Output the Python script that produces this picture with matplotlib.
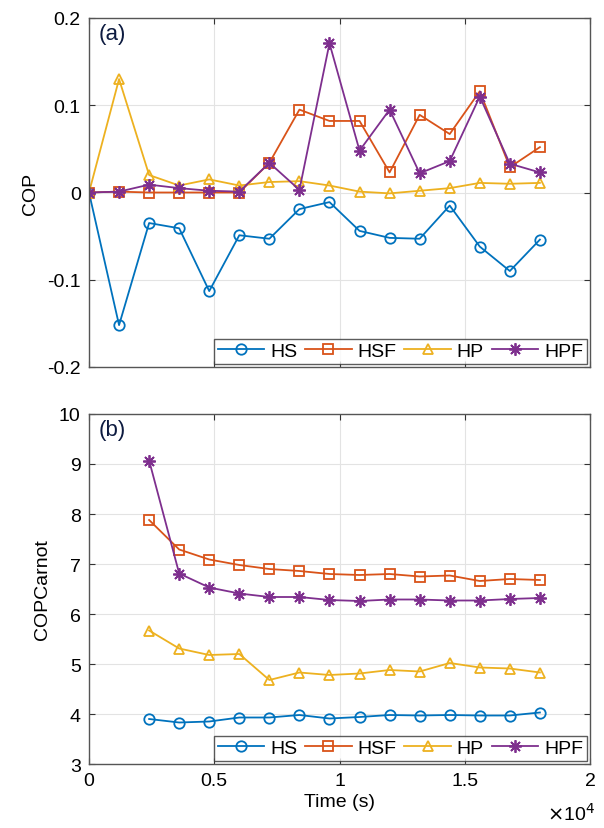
import matplotlib
matplotlib.use("Agg")
import matplotlib.pyplot as plt
from matplotlib.ticker import FixedLocator, FuncFormatter

plt.rcParams['font.family'] = ['Liberation Sans', 'DejaVu Sans']

# ---- data ----
time_a = [0, 1200, 2400, 3600, 4800, 6000, 7200, 8400, 9600, 10800,
          12000, 13200, 14400, 15600, 16800, 18000]
cop_hs = [0, -0.152, -0.035, -0.041, -0.113, -0.049, -0.053, -0.019, -0.011,
          -0.044, -0.052, -0.053, -0.015, -0.062, -0.090, -0.054]
cop_hsf = [0, 0.001, 0.0, 0.0, 0.0, 0.0, 0.034, 0.095, 0.082, 0.082,
           0.023, 0.089, 0.067, 0.116, 0.029, 0.052]
cop_hp = [0, 0.130, 0.020, 0.008, 0.015, 0.008, 0.012, 0.013, 0.008, 0.001,
          -0.001, 0.002, 0.005, 0.011, 0.010, 0.011]
cop_hpf = [0, 0.001, 0.009, 0.005, 0.002, 0.001, 0.034, 0.003, 0.171, 0.048,
           0.095, 0.022, 0.036, 0.110, 0.033, 0.023]

time_b = [2400, 3600, 4800, 6000, 7200, 8400, 9600, 10800,
          12000, 13200, 14400, 15600, 16800, 18000]
car_hs = [3.90, 3.83, 3.85, 3.93, 3.93, 3.98, 3.91, 3.94, 3.98, 3.97, 3.98,
          3.97, 3.97, 4.03]
car_hsf = [7.88, 7.29, 7.09, 6.98, 6.90, 6.86, 6.80, 6.78, 6.80, 6.75, 6.77,
           6.66, 6.70, 6.68]
car_hp = [5.67, 5.31, 5.18, 5.20, 4.68, 4.83, 4.78, 4.81, 4.88, 4.85, 5.02,
          4.93, 4.91, 4.83]
car_hpf = [9.07, 6.81, 6.53, 6.41, 6.34, 6.34, 6.28, 6.26, 6.29, 6.29, 6.27,
           6.27, 6.30, 6.32]

labels = ['HS', 'HSF', 'HP', 'HPF']
colors = ['#0072BD', '#D95319', '#EDB120', '#7E2F8E']
markers = ['o', 's', '^', (8, 2, 0)]
xticks = [0, 5000, 10000, 15000, 20000]

fig = plt.figure(figsize=(6.04, 8.29), dpi=100)
ax1 = fig.add_axes([89/604, 1-368/829, 501/604, 349/829])
ax2 = fig.add_axes([89/604, 1-765/829, 501/604, 350/829])

def style(ax):
    ax.set_xlim(0, 20000)
    ax.xaxis.set_major_locator(FixedLocator(xticks))
    ax.grid(True, color='#e3e3e3', linewidth=0.8)
    ax.set_axisbelow(True)
    ax.tick_params(direction='in', length=4, width=0.8, top=True, right=True,
                   labelsize=14, colors='#333333', labelcolor='black', pad=6)
    for s in ax.spines.values():
        s.set_color('#555555')
        s.set_linewidth(1.0)

def draw(ax, x, series, msize):
    for y, lab, c, m in zip(series, labels, colors, markers):
        ms = msize + 1.5 if m == markers[3] else msize
        ax.plot(x, y, color=c, marker=m, markersize=ms, markerfacecolor='none',
                markeredgecolor=c, markeredgewidth=1.3, linewidth=1.3, label=lab)

draw(ax1, time_a, [cop_hs, cop_hsf, cop_hp, cop_hpf], 7.5)
style(ax1)
ax1.set_ylim(-0.2, 0.2)
ax1.set_yticks([-0.2, -0.1, 0, 0.1, 0.2])
ax1.yaxis.set_major_formatter(FuncFormatter(lambda v, p: ('%g' % round(v, 3))))
ax1.set_xticklabels([])
ax1.set_ylabel('COP', fontsize=14, labelpad=6)
ax1.text(0.02, 0.985, '(a)', transform=ax1.transAxes, fontsize=16,
         color='#0d1b40', va='top', ha='left')

draw(ax2, time_b, [car_hs, car_hsf, car_hp, car_hpf], 7.5)
style(ax2)
ax2.set_ylim(3, 10)
ax2.set_yticks([3, 4, 5, 6, 7, 8, 9, 10])
ax2.set_xticklabels(['0', '0.5', '1', '1.5', '2'])
ax2.set_ylabel('COPCarnot', fontsize=14, labelpad=6)
ax2.set_xlabel('Time (s)', fontsize=14, labelpad=3)
ax2.text(1.01, -0.172, r'$\times$10$^4$', transform=ax2.transAxes, fontsize=14,
         ha='right', va='bottom')

ax2.text(0.02, 0.985, '(b)', transform=ax2.transAxes, fontsize=16,
         color='#0d1b40', va='top', ha='left')

for ax in (ax1, ax2):
    leg = ax.legend(loc='lower right', ncol=4, fontsize=14, frameon=True,
                    fancybox=False, borderpad=0.2, handlelength=2.4,
                    handletextpad=0.3, columnspacing=0.4, borderaxespad=0.15,
                    edgecolor='#333333')
    leg.get_frame().set_linewidth(1.0)

fig.savefig('out.png', dpi=100)
